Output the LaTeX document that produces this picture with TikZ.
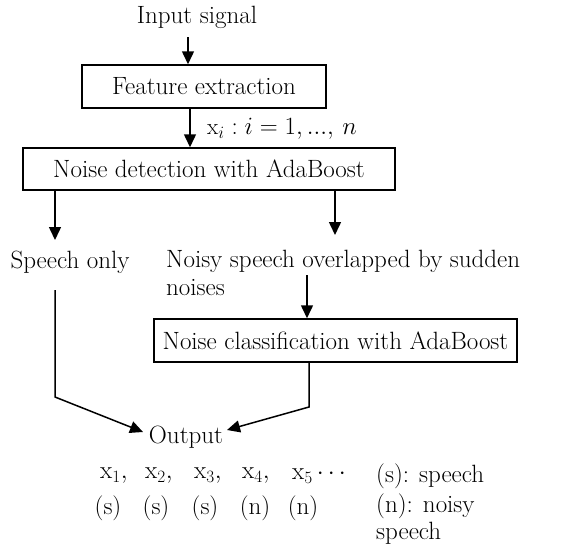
\documentclass[tikz,border=0pt]{standalone}
\usepackage{fontspec}
\usetikzlibrary{arrows.meta}
\begin{document}
\begin{tikzpicture}[x=1pt,y=-1pt,
  every node/.style={font=\fontsize{25}{28}\selectfont, inner sep=0pt},
  box/.style={draw, line width=1.5pt, minimum height=43pt},
  conn/.style={line width=1.5pt},
  arr/.style={conn, -{Triangle[length=13pt,width=12pt]}}]
\useasboundingbox (0,0) rectangle (571,547);
\node (input) at (197,17) {Input signal};
\node[box, minimum width=244pt] (fe) at (204,86.5) {Feature extraction};
\node[anchor=west, font=\fontsize{23}{28}\selectfont] (lbl) at (207,129) {$\mathrm{x}_i : i = 1,\mathrm{...},\, n$};
\node[box, minimum width=372pt, minimum height=42pt] (nd) at (209,169) {Noise detection with AdaBoost};
\node (sonly) at (70,262) {Speech only};
\node[anchor=north west, align=left] (noisy) at (166,250) {Noisy speech overlapped by sudden\\noises};
\node[box, minimum width=363pt] (nc) at (335.5,340.5) {Noise classification with AdaBoost};
\node (out) at (186,437) {Output};
% output row
\node[anchor=west] (x1) at (100,476) {$\mathrm{x}_1,$};
\node[anchor=west] (x2) at (145,476) {$\mathrm{x}_2,$};
\node[anchor=west] (x3) at (194,476) {$\mathrm{x}_3,$};
\node[anchor=west] (x4) at (242,476) {$\mathrm{x}_4,$};
\node[anchor=west] (x5) at (292,476) {$\mathrm{x}_5\cdots$};
\node (s1) at (108,508) {(s)};
\node (s2) at (156,508) {(s)};
\node (s3) at (205,508) {(s)};
\node (n4) at (255,508) {(n)};
\node (n5) at (303,508) {(n)};
\node[anchor=west] (l1) at (376,476) {(s): speech};
\node[anchor=west] (l2) at (376,506) {(n): noisy};
\node[anchor=west] (l3) at (376,533) {speech};
% connectors
\coordinate (a0) at (188,37);
\draw[arr] (a0) -- (a0 |- fe.north);
\coordinate (b0) at (190,108);
\draw[arr] (b0 |- fe.south) -- (b0 |- nd.north);
\coordinate (c1) at (55,240);
\draw[arr] (c1 |- nd.south) -- (c1);
\coordinate (c2) at (335,235);
\draw[arr] (c2 |- nd.south) -- (c2);
\coordinate (d0) at (307,275);
\draw[arr] (d0) -- (d0 |- nc.north);
\coordinate (e0) at (55,290);
\coordinate (e1) at (55,397);
\coordinate (et) at (143,432);
\draw[arr] (e0) -- (e1) -- (et);
\coordinate (f1) at (309,407);
\coordinate (ft) at (227,430);
\draw[arr] (f1 |- nc.south) -- (f1) -- (ft);
\end{tikzpicture}
\end{document}
